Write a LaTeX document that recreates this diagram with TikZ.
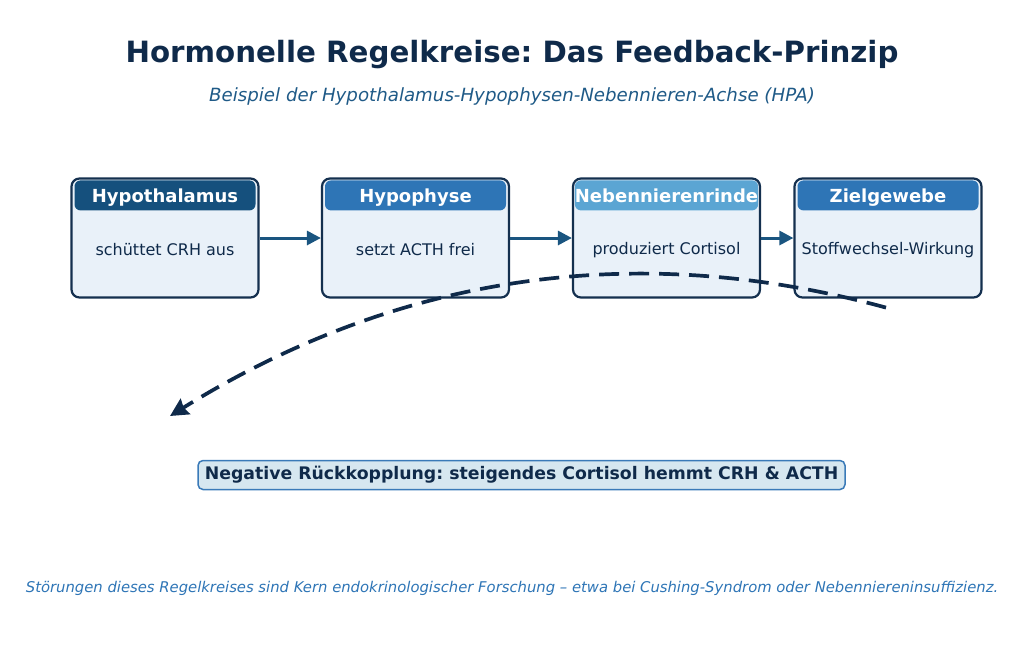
\documentclass[tikz,border=0pt]{standalone}
\usepackage{fontspec}
\setmainfont{DejaVu Sans}
\usepackage{xcolor}
\usetikzlibrary{arrows.meta,positioning,calc}
\frenchspacing

\definecolor{navy}{HTML}{0F2A4A}
\definecolor{rahmen}{HTML}{14304F}
\definecolor{boxfill}{HTML}{E9F1F9}
\definecolor{kopfA}{HTML}{15507D}
\definecolor{kopfB}{HTML}{2E75B6}
\definecolor{kopfC}{HTML}{5BA5D3}
\definecolor{pfeilblau}{HTML}{1A5580}
\definecolor{untertitel}{HTML}{1F5A87}
\definecolor{fussblau}{HTML}{2E75B6}
\definecolor{labelfill}{HTML}{D6E7F0}
\definecolor{labelrand}{HTML}{3A7AB8}

\tikzset{
  organ/.style={draw=rahmen, line width=2.2pt, fill=boxfill, rounded corners=8pt,
    minimum width=187pt, minimum height=119pt, inner sep=0pt},
  kopf/.style={fill=#1, rounded corners=6pt, minimum width=181pt, minimum height=30pt,
    inner sep=0pt, text height=14pt, text depth=-2pt, text=white,
    font=\fontsize{18}{20}\selectfont\bfseries},
  inhalt/.style={text=navy, font=\fontsize{16}{18}\selectfont},
  pfeil/.style={draw=pfeilblau, line width=3pt, -{Triangle[length=14pt,width=14pt]}},
  rueck/.style={draw=navy, line width=3.7pt, dash pattern=on 20pt off 10pt,
    -{Stealth[length=18pt,width=18pt,inset=2pt]}}
}

\begin{document}
\begin{tikzpicture}[x=1pt,y=-1pt]
\useasboundingbox (0,0) rectangle (1024,662);

% Titel
\node (titel) [text=navy, font=\fontsize{29.3}{33}\selectfont\bfseries] at (512,55)
  {Hormonelle Regelkreise: Das Feedback-Prinzip};
\node (sub) [text=untertitel, font=\fontsize{18.2}{21}\selectfont\itshape] at (512,96)
  {Beispiel der Hypothalamus-Hypophysen-Nebennieren-Achse (HPA)};

% Kaskade
\node (hypo) [organ] at (165,238) {};
\node (hypoph) [organ] at (415.5,238) {};
\node (nnr) [organ] at (666.5,238) {};
\node (ziel) [organ] at (888,238) {};

\node (hypoK) [kopf=kopfA] at ($(hypo.north)+(0,18)$) {Hypothalamus};
\node (hypophK) [kopf=kopfB] at ($(hypoph.north)+(0,18)$) {Hypophyse};
\node (nnrK) [kopf=kopfC] at ($(nnr.north)+(0,18)$) {Nebennierenrinde};
\node (zielK) [kopf=kopfB] at ($(ziel.north)+(0,18)$) {Zielgewebe};

\node (hypoT) [inhalt] at ($(hypo.center)+(0,12)$) {schüttet CRH aus};
\node (hypophT) [inhalt] at ($(hypoph.center)+(0,12)$) {setzt ACTH frei};
\node (nnrT) [inhalt] at ($(nnr.center)+(0,12)$) {produziert Cortisol};
\node (zielT) [inhalt] at ($(ziel.center)+(0,12)$) {Stoffwechsel-Wirkung};

\draw [pfeil] (hypo.east) -- (hypoph.west);
\draw [pfeil] (hypoph.east) -- (nnr.west);
\draw [pfeil] (nnr.east) -- (ziel.west);

% Rueckkopplung
\coordinate (rueckStart) at ($(ziel.south)+(-2,9)$);
\coordinate (rueckEnde) at (170,416);
\draw [rueck] (rueckStart) .. controls (635,239) and (397,275) .. (rueckEnde);

\node (rueckLabel) [draw=labelrand, line width=1.5pt, fill=labelfill, rounded corners=5pt,
  text=navy, font=\fontsize{17.3}{19}\selectfont\bfseries, minimum width=647pt,
  minimum height=29pt, inner sep=0pt] at (521.5,475)
  {Negative Rückkopplung: steigendes Cortisol hemmt CRH \& ACTH};

% Fusszeile
\node (fuss) [text=fussblau, font=\fontsize{14.8}{17}\selectfont\itshape] at (512,588)
  {Störungen dieses Regelkreises sind Kern endokrinologischer Forschung – etwa bei Cushing-Syndrom oder Nebenniereninsuffizienz.};
\end{tikzpicture}
\end{document}
